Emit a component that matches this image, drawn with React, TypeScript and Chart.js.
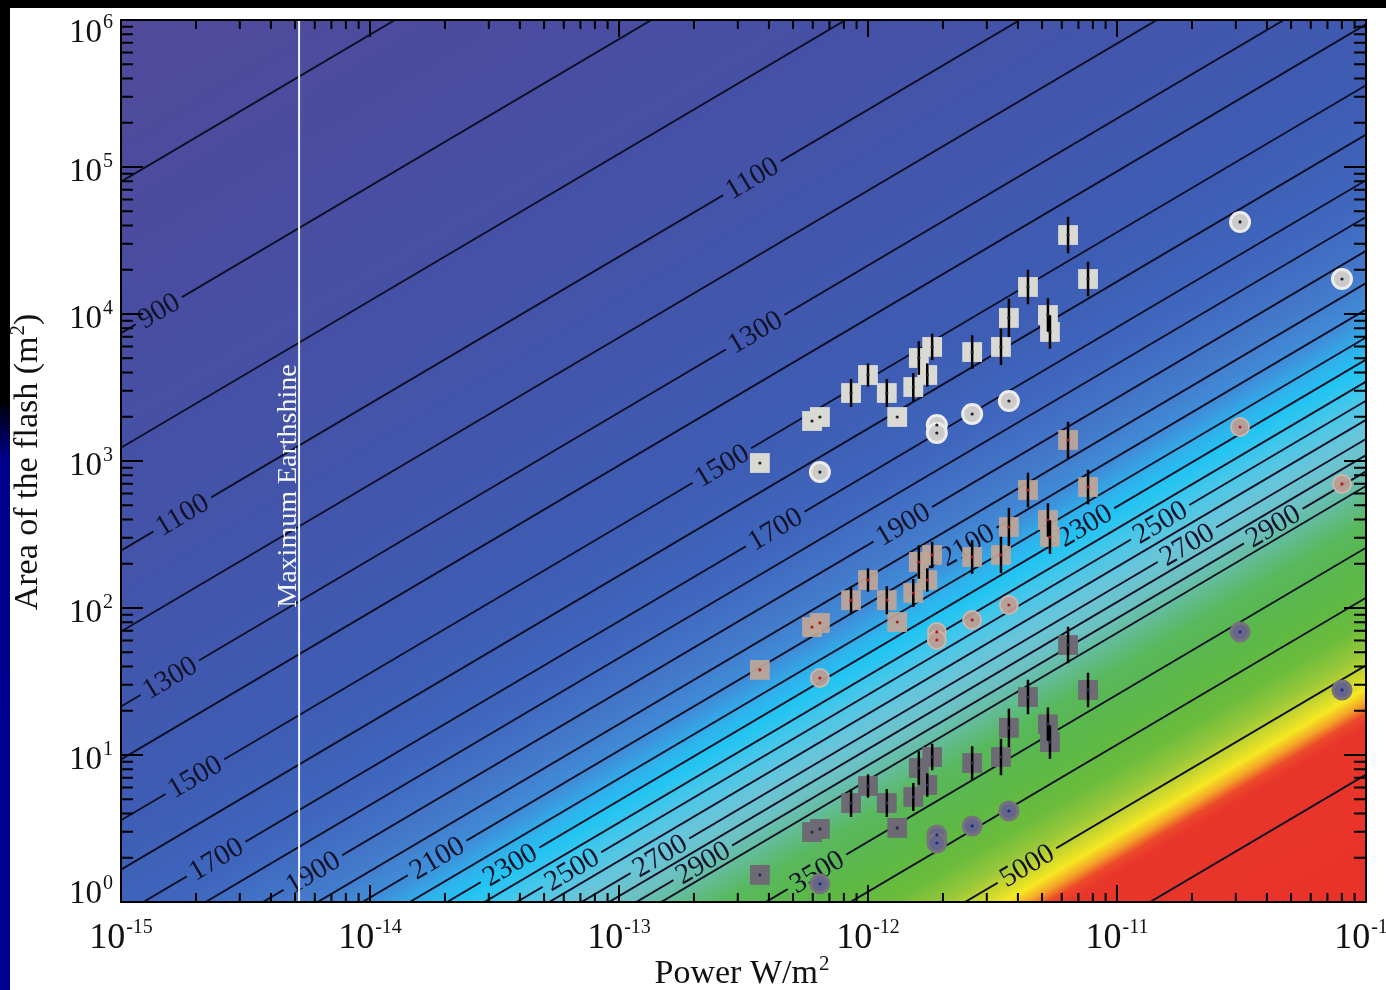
import React, { useEffect, useRef } from "react";
import { Chart, registerables } from "chart.js";

Chart.register(...registerables);

const SERIF = "'Liberation Serif', 'DejaVu Serif', 'Times New Roman', serif";
const LABEL_PX = 29;

// ---- axes ----
const xDecadeExponents = [-15, -14, -13, -12, -11, -10];
const yDecadeExponents = [0, 1, 2, 3, 4, 5, 6];
const xTitle = "Power W/m";
const yTitle = "Area of the flash (m";
const earthshineLabel = "Maximum Earthshine";
const earthshinePower = 5.19e-15;

// ---- isotherms (K) and their log10(Power/Area) ----
const contourTemps = [800, 900, 1000, 1100, 1200, 1300, 1400, 1500, 1600, 1700, 1800, 1900, 2000, 2100, 2200, 2300, 2400, 2500, 2600, 2700, 2800, 2900, 3000, 3500, 4000, 5000, 10000];
const contourLogRatio = [-19.9, -18.87, -18.09, -17.39, -16.84, -16.33, -15.97, -15.556, -15.22, -14.91, -14.66, -14.43, -14.21, -14.03, -13.84, -13.69, -13.54, -13.41, -13.28, -13.15, -13.04, -12.93, -12.83, -12.41, -12.07, -11.61, -10.867];

// contour label placement (temperature, power at label centre)
const labelTemps = [900, 1100, 1300, 1500, 1700, 1900, 2100, 2300, 2500, 2700, 2900, 3500, 5000, 1100, 1300, 1500, 1700, 1900, 2100, 2300, 2500, 2700, 2900];
const labelPower = [1.42e-15, 1.76e-15, 1.57e-15, 1.98e-15, 2.41e-15, 5.9e-15, 1.86e-14, 3.65e-14, 6.47e-14, 1.46e-13, 2.17e-13, 6.24e-13, 4.35e-12, 3.42e-13, 3.52e-13, 2.59e-13, 4.24e-13, 1.38e-12, 2.5e-12, 7.43e-12, 1.49e-11, 1.91e-11, 4.24e-11];

// colour field as a function of log10(Power/Area)
const colorStopT = [-21.0, -19.5, -18.0, -16.5, -15.5, -14.8, -14.3, -14.0, -13.8, -13.65, -13.45, -13.2, -12.98, -12.78, -12.58, -12.2, -11.9, -11.7, -11.55, -11.45, -11.36, -11.28, -11.2, -10.0];
const colorStopColors = ["#524a9b", "#4b4c9f", "#4551a6", "#4157ad", "#3e5db4", "#3f66bd", "#4479ca", "#3f8ed9", "#2fb2ec", "#22c4f2", "#45c7ea", "#68c5da", "#6cc1c2", "#62bc92", "#58b85c", "#5cb845", "#6cbc3c", "#98c83a", "#d0d82c", "#f6e822", "#f4a428", "#ec4a2a", "#e8362a", "#e8322a"];

// ---- observed flashes ----
const powerSquares = [3.68e-13, 5.96e-13, 6.41e-13, 8.55e-13, 1.0e-12, 1.19e-12, 1.31e-12, 1.52e-12, 1.6e-12, 1.73e-12, 1.81e-12, 2.62e-12, 3.42e-12, 3.68e-12, 4.39e-12, 5.28e-12, 5.38e-12, 6.36e-12, 7.65e-12];
const areaSquaresHigh = [969, 1871, 1992, 2900, 3845, 2900, 1992, 3187, 5020, 3845, 5970, 5510, 5970, 9400, 15270, 9840, 7550, 34450, 17300];
const areaSquaresMid = [37.9, 74.2, 79.1, 113, 155, 113, 80.3, 126.5, 205.6, 155, 229.5, 222.3, 229.5, 355.7, 635, 397, 304, 1390, 665];
const areaSquaresLow = [1.53, 2.99, 3.14, 4.71, 6.15, 4.71, 3.19, 5.18, 8.16, 6.25, 9.69, 8.82, 9.69, 15.3, 24.8, 16.2, 12.25, 56.0, 27.7];
const squareErrFactor = [0, 0, 0, 1.245, 1.2, 1.245, 0, 1.245, 1.3, 1.2, 1.23, 1.3, 1.33, 1.35, 1.31, 1.3, 1.3, 1.33, 1.31];

const powerCircles = [6.41e-13, 1.89e-12, 1.89e-12, 2.62e-12, 3.68e-12, 3.12e-11, 8.01e-11];
const areaCirclesHigh = [841, 1758, 1550, 2088, 2560, 42270, 17300];
const areaCirclesMid = [33.4, 68.7, 60.6, 82.9, 104.8, 1703, 698];
const areaCirclesLow = [1.33, 2.86, 2.52, 3.29, 4.16, 68.7, 27.7];

const toPoints = (xs: number[], ys: number[]) => xs.map((x, i) => ({ x, y: ys[i] }));

function lineAxes(chart: any) {
  const xs = chart.scales.x;
  const ys = chart.scales.y;
  const ax = (xs.getPixelForValue(1e-10) - xs.getPixelForValue(1e-15)) / 5;
  const ay = (ys.getPixelForValue(1) - ys.getPixelForValue(1e6)) / 6;
  return { xs, ys, ax, ay, ang: Math.atan2(-ay, ax) };
}

function drawPow(ctx: CanvasRenderingContext2D, exp: string, x: number, y: number, align: string, big: number, small: number, lift: number) {
  ctx.font = `${big}px ${SERIF}`;
  const w1 = ctx.measureText("10").width;
  ctx.font = `${small}px ${SERIF}`;
  const w2 = ctx.measureText(exp).width;
  const total = w1 + 1 + w2;
  const sx = align === "center" ? x - total / 2 : align === "right" ? x - total : x;
  ctx.textAlign = "left";
  ctx.textBaseline = "alphabetic";
  ctx.font = `${big}px ${SERIF}`;
  ctx.fillText("10", sx, y);
  ctx.font = `${small}px ${SERIF}`;
  ctx.fillText(exp, sx + w1 + 1, y - lift);
}

const decorPlugin = {
  id: "decor",
  beforeDatasetsDraw(chart: any) {
    const ctx: CanvasRenderingContext2D = chart.ctx;
    const { left, top, right, bottom } = chart.chartArea;
    const { xs, ys, ax, ay, ang } = lineAxes(chart);
    const gx = 1 / ax;
    const gy = 1 / ay;
    const g2 = gx * gx + gy * gy;
    const t0 = colorStopT[0];
    const t1 = colorStopT[colorStopT.length - 1];
    const x0 = xs.getPixelForValue(Math.pow(10, t0));
    const y0 = ys.getPixelForValue(1);
    const s = (t1 - t0) / g2;
    const grad = ctx.createLinearGradient(x0, y0, x0 + s * gx, y0 + s * gy);
    colorStopT.forEach((t, i) => grad.addColorStop((t - t0) / (t1 - t0), colorStopColors[i]));
    ctx.save();
    ctx.fillStyle = grad;
    ctx.fillRect(left, top, right - left, bottom - top);
    ctx.beginPath();
    ctx.rect(left, top, right - left, bottom - top);
    ctx.clip();
    ctx.font = `${LABEL_PX}px ${SERIF}`;
    ctx.fillStyle = "#12132a";
    ctx.textAlign = "center";
    ctx.textBaseline = "middle";
    labelTemps.forEach((T, i) => {
      const k = contourTemps.indexOf(T);
      const r = Math.pow(10, contourLogRatio[k]);
      const P = labelPower[i];
      const cx = xs.getPixelForValue(P);
      const cy = ys.getPixelForValue(P / r);
      ctx.save();
      ctx.translate(cx, cy);
      ctx.rotate(ang);
      ctx.fillText(String(T), 0, 1);
      ctx.restore();
    });
    ctx.restore();
  },
  beforeDatasetDraw(chart: any, args: any) {
    const ds = chart.data.datasets[args.index];
    if (!ds.isContour) return;
    const ctx: CanvasRenderingContext2D = chart.ctx;
    const { xs, ys, ang } = lineAxes(chart);
    ctx.save();
    ctx.beginPath();
    ctx.rect(0, 0, chart.width, chart.height);
    ctx.font = `${LABEL_PX}px ${SERIF}`;
    const r = Math.pow(10, ds.logRatio);
    const c = Math.cos(ang);
    const sn = Math.sin(ang);
    labelTemps.forEach((T, i) => {
      if (T !== ds.temp) return;
      const P = labelPower[i];
      const cx = xs.getPixelForValue(P);
      const cy = ys.getPixelForValue(P / r);
      const hl = ctx.measureText(String(T)).width / 2 + 5;
      const hh = 13;
      const pts = [[-hl, -hh], [hl, -hh], [hl, hh], [-hl, hh]].map(([u, v]) => [cx + u * c - v * sn, cy + u * sn + v * c]);
      ctx.moveTo(pts[0][0], pts[0][1]);
      for (let k = 1; k < 4; k++) ctx.lineTo(pts[k][0], pts[k][1]);
      ctx.closePath();
    });
    ctx.clip("evenodd");
  },
  afterDatasetDraw(chart: any, args: any) {
    const ds = chart.data.datasets[args.index];
    if (ds.isContour) chart.ctx.restore();
  },
  afterDatasetsDraw(chart: any) {
    const ctx: CanvasRenderingContext2D = chart.ctx;
    const { left, top, right, bottom } = chart.chartArea;
    const xs = chart.scales.x;
    const ys = chart.scales.y;
    ctx.save();
    // error bars and centre dots
    chart.data.datasets.forEach((ds: any, i: number) => {
      if (!ds.isMarker) return;
      const meta = chart.getDatasetMeta(i);
      meta.data.forEach((el: any, j: number) => {
        const f = ds.errFactors ? ds.errFactors[j] : 0;
        if (f > 0) {
          const A = ds.data[j].y;
          ctx.strokeStyle = "#000";
          ctx.lineWidth = 2.5;
          ctx.beginPath();
          ctx.moveTo(el.x, ys.getPixelForValue(A * f));
          ctx.lineTo(el.x, ys.getPixelForValue(A / f));
          ctx.stroke();
        }
        ctx.fillStyle = ds.dotColor;
        ctx.beginPath();
        ctx.arc(el.x, el.y, 1.6, 0, Math.PI * 2);
        ctx.fill();
      });
    });
    // earthshine label
    const ex = xs.getPixelForValue(earthshinePower);
    ctx.save();
    ctx.translate(ex - 3, 486);
    ctx.rotate(-Math.PI / 2);
    ctx.fillStyle = "#f4f8f8";
    ctx.font = `28px ${SERIF}`;
    ctx.textAlign = "center";
    ctx.textBaseline = "alphabetic";
    ctx.fillText(earthshineLabel, 0, 0);
    ctx.restore();
    // frame
    ctx.strokeStyle = "#000";
    ctx.lineWidth = 2;
    ctx.strokeRect(left, top, right - left, bottom - top);
    // ticks
    ctx.beginPath();
    xDecadeExponents.forEach((e) => {
      for (let k = 1; k <= 9; k++) {
        if (e === -10 && k > 1) break;
        const x = xs.getPixelForValue(k * Math.pow(10, e));
        const len = k === 1 ? 17 : 9;
        ctx.moveTo(x, bottom);
        ctx.lineTo(x, bottom - len);
        ctx.moveTo(x, top);
        ctx.lineTo(x, top + len);
      }
    });
    yDecadeExponents.forEach((e) => {
      for (let k = 1; k <= 9; k++) {
        if (e === 6 && k > 1) break;
        const y = ys.getPixelForValue(k * Math.pow(10, e));
        const len = k === 1 ? 22 : 12;
        ctx.moveTo(left, y);
        ctx.lineTo(left + len, y);
        ctx.moveTo(right, y);
        ctx.lineTo(right - len, y);
      }
    });
    ctx.stroke();
    ctx.restore();
  },
  afterDraw(chart: any) {
    const ctx: CanvasRenderingContext2D = chart.ctx;
    const { left, bottom } = chart.chartArea;
    const xs = chart.scales.x;
    const ys = chart.scales.y;
    ctx.save();
    ctx.fillStyle = "#111";
    xDecadeExponents.forEach((e) => {
      drawPow(ctx, String(e), xs.getPixelForValue(Math.pow(10, e)), bottom + 46, "center", 36, 20, 15);
    });
    yDecadeExponents.forEach((e) => {
      const y = ys.getPixelForValue(Math.pow(10, e));
      const shift = e === 6 ? 22 : e === 0 ? 1 : 14;
      drawPow(ctx, String(e), left - 8, y + shift, "right", 33, 20, 14);
    });
    // x title
    ctx.font = `34px ${SERIF}`;
    const wT = ctx.measureText(xTitle).width;
    ctx.font = `21px ${SERIF}`;
    const w2 = ctx.measureText("2").width;
    const xc = (chart.chartArea.left + chart.chartArea.right) / 2 - 2;
    const sx = xc - (wT + w2) / 2;
    ctx.textAlign = "left";
    ctx.textBaseline = "alphabetic";
    ctx.font = `34px ${SERIF}`;
    ctx.fillText(xTitle, sx, 983);
    ctx.font = `21px ${SERIF}`;
    ctx.fillText("2", sx + wT + 1, 970);
    // y title
    ctx.save();
    ctx.translate(37, 462);
    ctx.rotate(-Math.PI / 2);
    ctx.font = `34px ${SERIF}`;
    const wY = ctx.measureText(yTitle).width;
    const wP = ctx.measureText(")").width;
    ctx.font = `21px ${SERIF}`;
    const wS = ctx.measureText("2").width;
    const tot = wY + wS + 1 + wP;
    let cx = -tot / 2;
    ctx.font = `34px ${SERIF}`;
    ctx.fillText(yTitle, cx, 0);
    cx += wY + 1;
    ctx.font = `21px ${SERIF}`;
    ctx.fillText("2", cx, -13);
    cx += wS;
    ctx.font = `34px ${SERIF}`;
    ctx.fillText(")", cx, 0);
    ctx.restore();
    ctx.restore();
  },
};

export default function App() {
  const canvasRef = useRef<HTMLCanvasElement | null>(null);

  useEffect(() => {
    const canvas = canvasRef.current;
    if (!canvas) return;
    const datasets: any[] = [];
    contourTemps.forEach((T, i) => {
      const r = Math.pow(10, contourLogRatio[i]);
      datasets.push({
        type: "line",
        isContour: true,
        temp: T,
        logRatio: contourLogRatio[i],
        data: [
          { x: 1e-15, y: 1e-15 / r },
          { x: 1e-10, y: 1e-10 / r },
        ],
        borderColor: "#0e0f24",
        borderWidth: 1.9,
        pointRadius: 0,
        fill: false,
        tension: 0,
        order: 20,
      });
    });
    datasets.push({
      type: "line",
      data: [
        { x: earthshinePower, y: 1 },
        { x: earthshinePower, y: 1e6 },
      ],
      borderColor: "#eef4f4",
      borderWidth: 2,
      pointRadius: 0,
      fill: false,
      order: 15,
    });
    const markerSets = [
      { px: powerSquares, py: areaSquaresLow, style: "rect", r: 14, bg: "#6d6a73", bc: "#6d6a73", bw: 0, err: squareErrFactor, dot: "#2a2a55", order: 5 },
      { px: powerCircles, py: areaCirclesLow, style: "circle", r: 9, bg: "#66668a", bc: "#77737c", bw: 3, err: null, dot: "#1c2a8a", order: 5 },
      { px: powerSquares, py: areaSquaresMid, style: "rect", r: 14, bg: "rgba(192,166,152,0.92)", bc: "rgba(0,0,0,0)", bw: 0, err: squareErrFactor, dot: "#b02020", order: 4 },
      { px: powerCircles, py: areaCirclesMid, style: "circle", r: 9, bg: "rgba(192,156,146,0.92)", bc: "rgba(206,184,172,0.92)", bw: 2, err: null, dot: "#b02020", order: 4 },
      { px: powerSquares, py: areaSquaresHigh, style: "rect", r: 14, bg: "#dadad4", bc: "#dadad4", bw: 0, err: squareErrFactor, dot: "#222", order: 3 },
      { px: powerCircles, py: areaCirclesHigh, style: "circle", r: 9.5, bg: "#cbcbcb", bc: "#ececec", bw: 3, err: null, dot: "#222", order: 3 },
    ];
    markerSets.forEach((m) => {
      datasets.push({
        type: "scatter",
        isMarker: true,
        errFactors: m.err,
        dotColor: m.dot,
        data: toPoints(m.px, m.py),
        pointStyle: m.style,
        pointRadius: m.r,
        backgroundColor: m.bg,
        borderColor: m.bc,
        borderWidth: m.bw,
        pointBackgroundColor: m.bg,
        pointBorderColor: m.bc,
        pointBorderWidth: m.bw,
        order: m.order,
      });
    });

    const chart = new Chart(canvas, {
      type: "scatter",
      data: { datasets },
      options: {
        responsive: false,
        animation: false,
        events: [],
        layout: { padding: { left: 121, right: 20, top: 20, bottom: 88 } },
        scales: {
          x: { type: "logarithmic", min: 1e-15, max: 1e-10, display: false },
          y: { type: "logarithmic", min: 1, max: 1e6, display: false },
        },
        plugins: { legend: { display: false }, tooltip: { enabled: false } },
      } as any,
      plugins: [decorPlugin as any],
    });
    return () => chart.destroy();
  }, []);

  return (
    <div style={{ position: "absolute", left: 0, top: 0, width: 1386, height: 990, background: "#000", overflow: "hidden" }}>
      <div
        style={{
          position: "absolute",
          left: 0,
          top: 0,
          width: 10,
          height: 990,
          background: "linear-gradient(to bottom, #000 0px, #000 400px, #00008c 460px, #000090 990px)",
        }}
      />
      <div style={{ position: "absolute", left: 10, top: 8, width: 1376, height: 982, background: "#fff" }} />
      <canvas ref={canvasRef} width={1386} height={990} style={{ position: "absolute", left: 0, top: 0, width: 1386, height: 990 }} />
    </div>
  );
}
